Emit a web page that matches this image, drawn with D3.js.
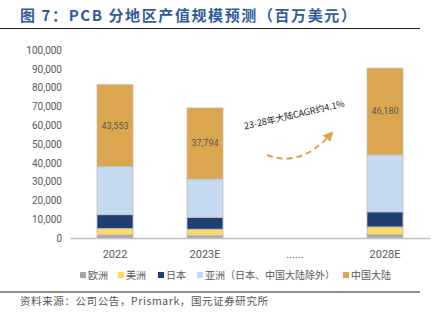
<!DOCTYPE html>
<html><head><meta charset="utf-8">
<script src="https://cdn.jsdelivr.net/npm/d3@7"></script>
<style>body{margin:0;background:#fff}svg{display:block;font-family:"Noto Sans CJK SC","Noto Sans",sans-serif}</style>
</head><body><svg id="c" width="432" height="321"></svg>
<script>
const categories = ["2022", "2023E", "......", "2028E"];
const seriesNames = ["欧洲", "美洲", "日本", "亚洲（日本、中国大陆除外）", "中国大陆"];
const europe   = [1700, 1500, null, 1800];
const americas = [3300, 3200, null, 4100];
const japan    = [7400, 6300, null, 8000];
const asiaOther= [25600, 20400, null, 30300];
const china    = [43553, 37794, null, 46180];
const yTicks = [0,10000,20000,30000,40000,50000,60000,70000,80000,90000,100000];
const colors = ["#a6a6a6", "#ffd966", "#1f3f73", "#c5d9f0", "#dba64e"];

const svg = d3.select("#c");
const series = [europe, americas, japan, asiaOther, china];
const rows = categories.map((c,i)=>{const o={cat:c}; seriesNames.forEach((s,j)=>o[s]=series[j][i]||0); return o;});
const stacked = d3.stack().keys(seriesNames)(rows);

const x = d3.scaleBand().domain(categories).range([70,430]).paddingInner(0.6).paddingOuter(0.3);
const y = d3.scaleLinear().domain([0,100000]).range([238,50]);

// title
svg.append("text").attr("x",20).attr("y",21).attr("fill","#2f5d9a").attr("font-size",15).attr("font-weight","bold")
  .attr("letter-spacing",1.6).text("图 7：PCB 分地区产值规模预测（百万美元）");
svg.append("line").attr("x1",0).attr("x2",420).attr("y1",28.5).attr("y2",28.5).attr("stroke","#222").attr("stroke-width",1.2);

// y axis labels
const ya = svg.append("g").attr("transform","translate(62,0)")
  .call(d3.axisLeft(y).tickValues(yTicks).tickSize(0).tickPadding(0).tickFormat(d3.format(",")));
ya.select(".domain").remove();
ya.selectAll("text").attr("fill","#595959").attr("font-size",10).attr("font-family","Roboto, 'Noto Sans', sans-serif");

// bars
const g = svg.append("g");
stacked.forEach((s,j)=>{
  g.selectAll(null).data(s.filter(d=>d.data.cat!=="......")).join("rect")
   .attr("x",d=>x(d.data.cat)).attr("width",x.bandwidth())
   .attr("y",d=>y(d[1])).attr("height",d=>y(d[0])-y(d[1]))
   .attr("fill",colors[j]).attr("stroke","#bfbfbf").attr("stroke-width",0.8);
});
// china labels
const chinaS = stacked[4];
g.selectAll(null).data(chinaS.filter(d=>d.data.cat!=="......")).join("text")
  .attr("x",d=>x(d.data.cat)+x.bandwidth()/2).attr("y",d=>y((d[0]+d[1])/2)+3)
  .attr("text-anchor","middle").attr("font-size",9).attr("fill","#595959")
  .attr("font-family","Roboto, 'Noto Sans', sans-serif")
  .text(d=>d3.format(",")(d.data["中国大陆"]));

// x axis
const xa = svg.append("g").attr("transform","translate(0,238)")
  .call(d3.axisBottom(x).tickSize(0).tickPadding(12));
xa.select(".domain").attr("stroke","#bfbfbf").attr("stroke-width",1.5);
xa.selectAll("text").attr("fill","#595959").attr("font-size",11).attr("font-family","Roboto, 'Noto Sans', sans-serif");

// annotation
svg.append("text").attr("transform","translate(295,118) rotate(-13)").attr("text-anchor","middle")
  .attr("font-size",9).attr("fill","#222").text("23-28年大陆CAGR约4.1%");
svg.append("defs").append("marker").attr("id","ah").attr("viewBox","0 0 10 10").attr("refX",5).attr("refY",5)
  .attr("markerWidth",5).attr("markerHeight",5).attr("orient","auto")
  .append("path").attr("d","M0,0 L10,5 L0,10 z").attr("fill","#dba64e");
svg.append("path").attr("d","M267,155 Q300,168 330,135").attr("fill","none").attr("stroke","#dba64e")
  .attr("stroke-width",2).attr("stroke-dasharray","6,4").attr("marker-end","url(#ah)");

// legend
const legX = [80,118,158,197,343];
const lg = svg.append("g");
seriesNames.forEach((s,j)=>{
  lg.append("rect").attr("x",legX[j]).attr("y",272).attr("width",6).attr("height",6).attr("fill",colors[j]);
  lg.append("text").attr("x",legX[j]+8).attr("y",279).attr("font-size",10).attr("fill","#595959").text(s);
});

// bottom rule & source
svg.append("line").attr("x1",0).attr("x2",420).attr("y1",292).attr("y2",292).attr("stroke","#222").attr("stroke-width",1.2);
svg.append("text").attr("x",20).attr("y",305).attr("font-size",10.5).attr("fill","#555").attr("letter-spacing",0.6)
  .text("资料来源：公司公告，Prismark，国元证券研究所");
</script></body></html>
